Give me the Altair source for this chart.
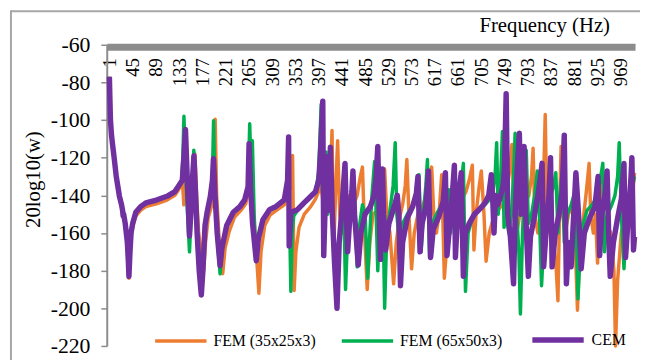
import altair as alt
import pandas as pd

SERIES = ["FEM (35x25x3)", "FEM (65x50x3)", "CEM"]
COLORS = ["#ED7D31", "#00B050", "#7030A0"]
WIDTHS = [3.5, 3.5, 5.5]

X_TICKS = [1, 45, 89, 133, 177, 221, 265, 309, 353, 397, 441, 485, 529, 573,
           617, 661, 705, 749, 793, 837, 881, 925, 969]
Y_TICKS = [-60, -80, -100, -120, -140, -160, -180, -200, -220]

# ---- CEM (purple) ----
cem_f = [1, 2, 3, 5, 7, 10, 14, 20, 24, 26, 27, 28, 31, 35, 37, 38, 40, 42, 45, 51, 60, 70, 90, 110, 125, 132, 139,
         142, 145, 148, 152.6, 156, 158.5, 161, 164, 167, 171, 175, 178, 182, 186, 192, 196, 198, 201, 205, 210.5, 214,
         223, 235.5, 248, 257, 263.5, 265.4, 268, 272, 279, 283, 291.6, 304, 316.5, 332, 338.3, 340.2, 341.3, 343,
         344.5, 357, 369.4, 381.9, 391.2, 397.4, 401, 404.9, 406.7, 409, 411.8, 415, 419.3, 423, 427, 431.8, 436, 441,
         444, 447, 449, 452, 456, 460, 462, 465, 472, 477, 485, 495, 502, 506, 509, 511, 514, 516, 518, 520, 524, 530,
         540, 546, 549, 552, 556, 565, 575, 582, 585, 589, 593, 600, 605, 609, 614, 625, 633, 637, 640, 645, 650, 654,
         656, 660, 664, 667, 671, 675, 682, 692, 703, 712, 719, 724, 727, 729, 732, 736, 740, 746, 749, 752, 755, 760,
         766, 769, 773, 777, 780, 783, 786, 789, 794, 798, 805, 812, 817, 820, 823, 828, 833, 836, 839, 845, 852, 858,
         862, 866, 870, 875, 879, 884, 889, 894, 900, 910, 920, 926, 929, 933, 940, 943, 946, 949, 955, 963, 970, 975,
         978, 983, 988, 990, 993, 995]
cem_db = [-77, -89, -100, -108, -113, -120, -130, -140.5, -145, -148, -151, -150, -155, -165, -176, -183, -170, -160,
          -155, -149, -146, -144, -142.5, -140.5, -138, -135, -132,
          -120, -105, -128, -161.6, -145, -130, -119, -138, -160, -180, -193, -180, -156, -149, -140.6, -132, -120.5,
          -140, -160, -177.4, -168,
          -156, -149, -146, -142.4, -135.4, -112.6, -135, -155, -174.7, -163, -152.9, -147.6, -145.9, -142.4, -131.9,
          -109, -166.9, -158,
          -149, -147.6, -144, -140.6, -138, -131.9, -115, -90, -172, -150, -119.6, -148, -114.4, -150, -175, -200, -165,
          -148,
          -135, -123, -145, -170, -152, -138, -127, -150, -177, -160, -150, -146, -140, -130, -114, -140, -174, -140,
          -126, -150, -169, -155,
          -146, -140, -150, -188, -165, -152, -146, -139, -130, -170, -155, -146, -127, -173, -158, -151, -143, -128,
          -172, -156, -140, -124,
          -173, -150, -135, -128, -183, -160, -155, -150, -147, -144, -140, -129, -145, -160, -140, -145, -142, -135,
          -125, -86, -150, -162,
          -187, -150, -125, -107, -150, -135, -114, -150, -183, -162, -152, -140, -130, -123, -178, -158, -140, -120,
          -178, -160, -150, -138,
          -108, -187, -165, -178, -155, -128, -150, -179, -160, -152, -146, -130, -172, -150, -138, -127, -160, -183,
          -165, -152, -142, -123,
          -173, -152, -132, -120, -169, -162]

# ---- FEM (65x50x3) (green) ----
fem65_f = [1, 2, 3, 5, 7, 10, 14, 20, 24, 26, 27, 28, 31, 35, 37, 38, 40, 42, 45, 51, 60, 70, 90, 110, 125, 132, 137.6,
           140, 142.1, 145, 149, 152.6, 156, 158.5, 160.8, 164, 167, 171, 175, 178, 182, 186, 192, 196, 198.2, 201, 205,
           210.5, 214, 223, 235.5, 248, 257, 263.5, 266.6, 269, 271.6, 275, 279, 283, 291.6, 304, 316.5, 332, 338.3,
           340.5, 342.5, 344.5, 347, 350, 357, 369.4, 381.9, 391.2, 397, 399.5, 401.9, 404, 407, 411, 414, 418, 422,
           427, 432, 437, 442, 445, 448, 452, 458, 463, 466, 470, 475, 480, 485, 490, 494, 498, 503, 506, 509, 513, 518,
           522, 526, 532, 538, 542, 545, 550, 556, 565, 575, 582, 587, 591, 595, 600, 603, 607, 612, 620, 630, 638, 643,
           647, 652, 660, 667, 671, 675, 680, 688, 698, 708, 718, 726, 731, 734, 737, 741, 745, 748, 752, 757, 762, 766,
           769, 772, 776, 779, 783, 787, 790, 794, 800, 806, 811, 815, 819, 824, 830, 836, 842, 846, 850, 855, 858, 862,
           868, 875, 880, 884, 888, 892, 898, 905, 915, 925, 930, 935, 938, 944, 952, 958, 963, 966, 970, 975, 980, 988,
           995]
fem65_db = [-77, -89, -100, -108, -113, -120, -130, -140.5, -145, -148, -151, -150, -155, -165, -176, -183, -170, -160,
            -155, -149, -146, -144, -142.5, -140.5, -138, -135, -132,
            -120, -98, -125, -150, -170, -148, -128, -116, -136, -160, -178, -190, -180, -156, -149, -140.6, -130,
            -100.4, -140, -162,
            -181.7, -170, -156, -149, -146, -142.4, -135.4, -102, -125, -111, -150, -175, -163, -152.9, -147.6, -145.9,
            -142.4, -131.9,
            -125, -160, -191, -160, -151, -148, -144.5, -141, -138.5, -128, -110, -91.6, -135, -150, -117, -150, -125,
            -145,
            -165, -188, -160, -140, -150, -190, -160, -145, -130, -150, -178, -155, -145, -150, -184, -160, -140, -122,
            -150, -180, -150, -135,
            -200, -160, -148, -135, -112, -150, -165, -155, -150, -145, -138, -129, -170, -150, -135, -121, -173, -155,
            -150, -145, -142, -137,
            -160, -148, -140, -135, -123, -191, -160, -152, -148, -146, -143, -140, -130, -112, -150, -135, -106, -157,
            -150, -160, -150, -130,
            -107, -150, -170, -203, -160, -135, -116, -155, -150, -140, -127, -150, -188, -160, -150, -140, -135, -128,
            -160, -135, -128, -165,
            -150, -145, -140, -150, -195, -170, -155, -148, -145, -140, -132, -123, -170, -150, -145, -140, -130, -112,
            -150, -179, -150, -140,
            -130]

# ---- FEM (35x25x3) (orange) ----
fem35_f = [1, 2, 3, 5, 7, 10, 14, 20, 24, 26, 27, 28, 31, 35, 37, 38, 40, 42, 45, 51, 60, 70, 90, 110, 125, 132, 137.6,
           140, 142, 144, 147, 150, 153, 156, 159, 163, 166, 170, 176, 179.5, 183, 188, 195, 199, 201.2, 204, 209, 215.5,
           220, 228, 238, 250, 259, 264, 267, 270, 274, 279, 284, 288, 295, 305, 317, 332, 339, 344, 347.7, 350.7, 354,
           360, 370, 382, 391, 397, 400, 404, 408, 412, 416, 420, 422.4, 425.4, 429, 433, 437, 442, 447, 452, 458, 463,
           470, 476, 480, 484, 489, 494, 500, 508, 515, 519, 522, 526, 532, 539, 544, 550, 556, 561, 564, 568, 573, 578,
           585, 595, 603, 608, 611, 615, 620, 625, 630, 635, 640, 648, 658, 668, 676, 682, 688, 691, 695, 701, 705, 710,
           714, 720, 728, 736, 745, 752, 758, 763, 767, 772, 778, 786, 795, 800, 803, 806, 812, 818, 823, 826, 829, 835,
           842, 846, 850, 853, 856, 859, 864, 870, 876, 882, 887, 891, 897, 903, 909, 912, 917, 921, 925, 928, 931, 935,
           942, 950, 956, 959, 963, 970, 978, 985, 991, 995]
fem35_db = [-77, -89, -100, -108, -113, -120, -130, -140.5, -145.5, -148.5, -151, -151, -156, -166, -177, -184, -172,
            -162, -157, -151, -148, -146, -144.5, -142.5, -140, -137, -134,
            -136, -145, -125, -118, -140, -158, -145, -130, -118, -140, -160, -172, -180, -165, -152, -145, -130, -99.5,
            -140, -165, -181.6,
            -168, -159, -151.5, -148, -144.5, -138, -125, -113, -150, -170, -192, -170, -156, -150.5, -148, -145, -140,
            -134, -118.8, -190.5, -170,
            -157, -150, -146, -142, -138, -132, -140, -150, -130, -145, -125, -105.6, -170, -140, -111, -150, -160, -150,
            -140, -150, -145,
            -140, -130, -125, -160, -190, -165, -150, -148, -140, -130, -126, -150, -160, -187, -165, -152, -145, -135,
            -121, -150, -179, -160,
            -150, -145, -138, -130, -125, -150, -160, -150, -129, -184, -165, -150, -145, -142, -138, -132, -124, -169,
            -150, -135, -127, -150,
            -175, -160, -152, -148, -145, -140, -128, -113, -150, -160, -150, -145, -140, -130, -115, -150, -160, -150,
            -130, -97, -150, -160,
            -165, -175, -196, -150, -114, -150, -160, -150, -145, -160, -201, -170, -155, -140, -123, -150, -160, -150,
            -176, -150, -129, -150,
            -155, -160, -180, -220, -185, -160, -150, -145, -140, -128]

rows = []
for name, fs, vs in [(SERIES[0], fem35_f, fem35_db), (SERIES[1], fem65_f, fem65_db), (SERIES[2], cem_f, cem_db)]:
    for f, v in zip(fs, vs):
        rows.append({"series": name, "f": f, "db": v})
df = pd.DataFrame(rows)

FONT = "Liberation Serif"
GRAY = "#8c8c8c"

legend = alt.Legend(title=None, orient="none", legendX=47, legendY=270, direction="horizontal",
                    symbolType="stroke", symbolSize=2704, labelFont=FONT, labelFontSize=16,
                    labelColor="black", labelOffset=5, columnPadding=19, padding=0)

color = alt.Color("series:N", scale=alt.Scale(domain=SERIES, range=COLORS), legend=legend)
sw = alt.StrokeWidth("series:N", scale=alt.Scale(domain=SERIES, range=WIDTHS, type="ordinal"), legend=legend)

x = alt.X("f:Q", scale=alt.Scale(domain=[-4, 996], nice=False, zero=False),
          axis=alt.Axis(orient="bottom", offset=-303, values=X_TICKS, labelAngle=-90, labelFont=FONT,
                        labelFontSize=19, labelColor="black", ticks=False, tickSize=0, labelPadding=11,
                        domainColor=GRAY, domainWidth=7, labelOverlap=False, labelFlush=False, grid=False,
                        title="Frequency (Hz)", titleFont=FONT, titleFontSize=21, titleFontWeight="normal",
                        titleColor="black", titleX=443, titleY=-15, titleAlign="center",
                        titleBaseline="alphabetic"))
y = alt.Y("db:Q", scale=alt.Scale(domain=[-220, -60], nice=False, zero=False),
          axis=alt.Axis(values=Y_TICKS, labelExpr="'-' + abs(datum.value)", labelFont=FONT, labelFontSize=22,
                        labelColor="black", tickColor=GRAY, tickSize=6, tickWidth=1.5, domainColor=GRAY,
                        domainWidth=2, labelPadding=11, grid=False, title="20log10(w)", titleFont=FONT,
                        titleFontSize=21, titleFontWeight="normal", titleColor="black", titleX=-74, titleY=136,
                        titleAlign="center", titleBaseline="middle"))

base = alt.Chart(df)
layers = []
for s in SERIES:
    layers.append(base.transform_filter(alt.datum.series == s).mark_line(strokeJoin="round").encode(
        x=x, y=y, color=color, strokeWidth=sw))

frame = pd.DataFrame({"k": [0]})
left_rule = alt.Chart(frame).mark_rule(color="#a6a6a6", strokeWidth=2).encode(
    x=alt.value(-97), y=alt.value(-35), y2=alt.value(325))
top_rule = alt.Chart(frame).mark_rule(color="#a6a6a6", strokeWidth=2).encode(
    x=alt.value(-97), x2=alt.value(545), y=alt.value(-34))

chart = alt.layer(left_rule, top_rule, *layers).properties(
    width=535, height=305,
    autosize=alt.AutoSizeParams(type="none"),
    padding={"left": 100, "top": 35, "right": 5, "bottom": 12},
).configure(background="white", font=FONT).configure_view(stroke=None).configure_axis(
    labelFont=FONT, titleFont=FONT).configure_legend(labelFont=FONT)

chart.save("out.html", embed_options={"renderer": "svg", "actions": False})
